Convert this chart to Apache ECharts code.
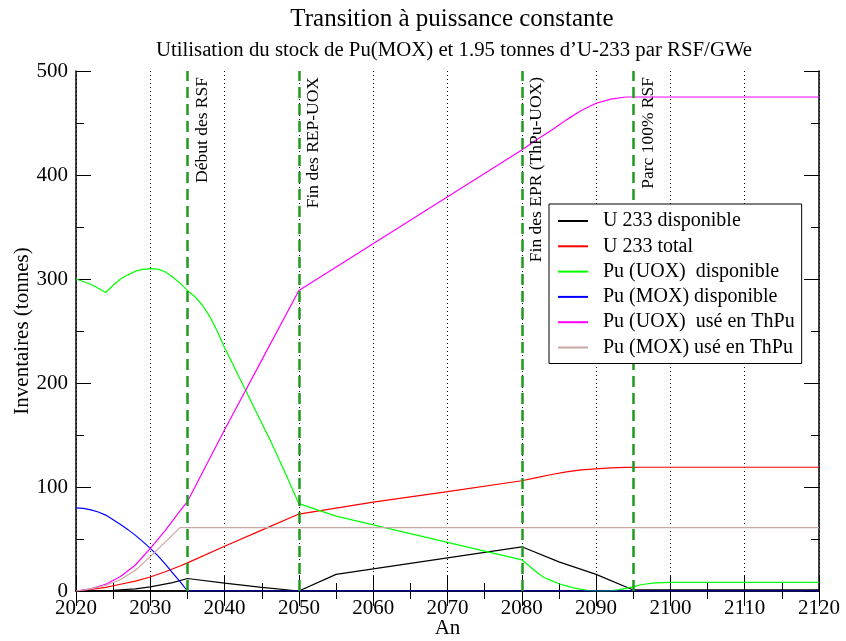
<!DOCTYPE html>
<html>
<head>
<meta charset="utf-8">
<script src="https://cdn.jsdelivr.net/npm/echarts@6/dist/echarts.min.js"></script>
<style>
  html, body { margin: 0; padding: 0; background: #fff; }
  #chart { width: 846px; height: 641px; }
</style>
</head>
<body>
<div id="chart"></div>
<script>
const font = 'Liberation Serif, Times New Roman, serif'

// U 233 disponible
const u233DispYears = [2020, 2025, 2028, 2030, 2033, 2035, 2040, 2045, 2050, 2055, 2080, 2085, 2090, 2095, 2097, 2120]
const u233DispValues = [0, 0.7, 2, 4, 8, 12, 7.5, 3.5, 0, 16, 42.5, 28, 16, 1, 1, 1]

// U 233 total
const u233TotYears = [2020, 2022, 2024, 2026, 2028, 2030, 2032, 2034, 2035, 2040, 2045, 2050, 2060, 2070, 2080, 2082, 2084, 2086, 2088, 2090, 2092, 2094, 2096, 2120]
const u233TotValues = [0, 1.5, 3.5, 6.5, 9.5, 13.5, 18.5, 24, 27, 43, 58.5, 74, 85.5, 95.5, 106, 109, 112, 114.5, 116.5, 117.5, 118.3, 118.8, 119, 119]

// Pu (UOX) disponible
const puUoxDispYears = [2020, 2022, 2024, 2025, 2026, 2027, 2028, 2029, 2030, 2031, 2032, 2033, 2034, 2035, 2036, 2037, 2038, 2039, 2040, 2042, 2044, 2046, 2048, 2050, 2055, 2080, 2081, 2082, 2083, 2084, 2085, 2086, 2087, 2088, 2089, 2090, 2091, 2092, 2093, 2094, 2095, 2096, 2097, 2098, 2100, 2120]
const puUoxDispValues = [300, 295, 287, 294, 300, 304, 307.5, 309.3, 310, 309.5, 307, 302, 296, 289, 283, 275, 264, 250, 234, 205, 176, 147, 116, 84, 72, 30, 24, 18, 13, 10, 7, 5, 3, 1.5, 0.5, 0, 0, 0.3, 1, 2.5, 4, 6, 7, 7.8, 8.2, 8.2]

// Pu (MOX) disponible
const puMoxDispYears = [2020, 2021, 2022, 2023, 2024, 2025, 2026, 2027, 2028, 2029, 2030, 2031, 2032, 2033, 2034, 2035, 2120]
const puMoxDispValues = [80, 79.5, 78, 76, 73, 68.5, 64, 59, 53.5, 47.5, 41, 34, 26, 17.5, 9, 0, 0]

// Pu (UOX) usé en ThPu
const puUoxUseYears = [2020, 2022, 2024, 2026, 2028, 2030, 2032, 2034, 2035, 2040, 2045, 2050, 2080, 2082, 2084, 2085, 2086, 2088, 2090, 2092, 2094, 2120]
const puUoxUseValues = [0, 2, 6.5, 14, 25, 41, 58, 77, 86, 155, 222, 289, 424, 434, 443, 448, 453, 462, 469, 473, 475, 475]

// Pu (MOX) usé en ThPu
const puMoxUseYears = [2020, 2022, 2024, 2026, 2028, 2030, 2032, 2033, 2034, 2120]
const puMoxUseValues = [0, 2, 5.5, 11, 20, 33, 47, 54, 61, 61]

const eventYears = [2035, 2050, 2080, 2095]
const eventLabels = ['Début des RSF', 'Fin des REP-UOX', 'Fin des EPR (ThPu-UOX)', 'Parc 100% RSF']

const seriesNames = ['U 233 disponible', 'U 233 total', 'Pu (UOX)  disponible', 'Pu (MOX) disponible', 'Pu (UOX)  usé en ThPu', 'Pu (MOX) usé en ThPu']
const seriesColors = ['#000000', '#ff0000', '#00ff00', '#0000ff', '#ff00ff', '#c8a8a4']
const seriesData = [
  [u233DispYears, u233DispValues],
  [u233TotYears, u233TotValues],
  [puUoxDispYears, puUoxDispValues],
  [puMoxDispYears, puMoxDispValues],
  [puUoxUseYears, puUoxUseValues],
  [puMoxUseYears, puMoxUseValues]
]

const zip = (xs, ys) => xs.map((x, i) => [x, ys[i]])

const lines = seriesNames.map((name, i) => ({
  name,
  type: 'line',
  data: zip(seriesData[i][0], seriesData[i][1]),
  showSymbol: false,
  symbol: 'none',
  color: seriesColors[i],
  lineStyle: { width: 1.2, color: seriesColors[i] },
  z: 3
}))

const markers = {
  name: 'events',
  type: 'line',
  data: [],
  silent: true,
  z: 2,
  markLine: {
    symbol: 'none',
    silent: true,
    animation: false,
    lineStyle: { color: '#1e9a1e', type: [11, 6], width: 2.5 },
    label: {
      show: true,
      position: 'insideEndBottom',
      distance: 6,
      color: '#000',
      fontFamily: font,
      fontSize: 17.5
    },
    data: eventYears.map((y, i) => ({ xAxis: y, label: { formatter: eventLabels[i] } }))
  }
}

const axisLine = { show: true, lineStyle: { color: '#000', width: 1.5 } }
const tickStyle = { inside: true, length: 15, lineStyle: { color: '#000', width: 1 } }
const minorStyle = { show: true, splitNumber: 2, length: 8, lineStyle: { color: '#000', width: 1 } }

const chart = echarts.init(document.getElementById('chart'))
chart.setOption({
  animation: false,
  backgroundColor: '#fff',
  textStyle: { fontFamily: font },
  title: [
    {
      text: 'Transition à puissance constante',
      left: 447, top: 2, textAlign: 'center',
      textStyle: { fontFamily: font, fontSize: 25, fontWeight: 'normal', color: '#000' }
    },
    {
      text: 'Utilisation du stock de Pu(MOX) et 1.95 tonnes d\u2019U-233 par RSF/GWe',
      left: 449, top: 35, textAlign: 'center',
      textStyle: { fontFamily: font, fontSize: 20.8, fontWeight: 'normal', color: '#000' }
    }
  ],
  grid: { left: 76, right: 27, top: 71, bottom: 50, outerBoundsMode: 'none', containLabel: false },
  legend: {
    data: seriesNames,
    orient: 'vertical',
    left: 549, top: 204,
    z: 20,
    padding: [7, 7, 6, 8],
    itemGap: 5.3,
    itemWidth: 30, itemHeight: 2,
    backgroundColor: '#fff',
    borderColor: '#000', borderWidth: 1,
    textStyle: { fontFamily: font, fontSize: 20, color: '#000', padding: [0, 0, 0, 10] }
  },
  xAxis: [
    {
      type: 'value', min: 2020, max: 2120, interval: 10,
      name: 'An', nameLocation: 'middle', nameGap: 27, nameMoveOverlap: false,
      nameTextStyle: { fontFamily: font, fontSize: 21, color: '#000' },
      axisLine, axisTick: tickStyle, minorTick: minorStyle,
      axisLabel: { color: '#000', fontFamily: font, fontSize: 21, margin: 7, formatter: v => String(v) },
      splitLine: { show: true, lineStyle: { color: '#000', type: [1, 3], width: 1 } }
    },
    {
      type: 'value', position: 'top', min: 2020, max: 2120, interval: 10,
      axisLine, axisTick: tickStyle, minorTick: minorStyle,
      axisLabel: { show: false }, splitLine: { show: false }
    }
  ],
  yAxis: [
    {
      type: 'value', min: 0, max: 500, interval: 100,
      name: 'Inventaires (tonnes)', nameLocation: 'middle', nameGap: 43, nameMoveOverlap: false,
      nameTextStyle: { fontFamily: font, fontSize: 21, color: '#000' },
      axisLine, axisTick: tickStyle, minorTick: minorStyle,
      axisLabel: { color: '#000', fontFamily: font, fontSize: 21, margin: 8 },
      splitLine: { show: false }
    },
    {
      type: 'value', position: 'right', min: 0, max: 500, interval: 100,
      axisLine, axisTick: tickStyle, minorTick: minorStyle,
      axisLabel: { show: false }, splitLine: { show: false }
    }
  ],
  series: [...lines, markers]
})
</script>
</body>
</html>
